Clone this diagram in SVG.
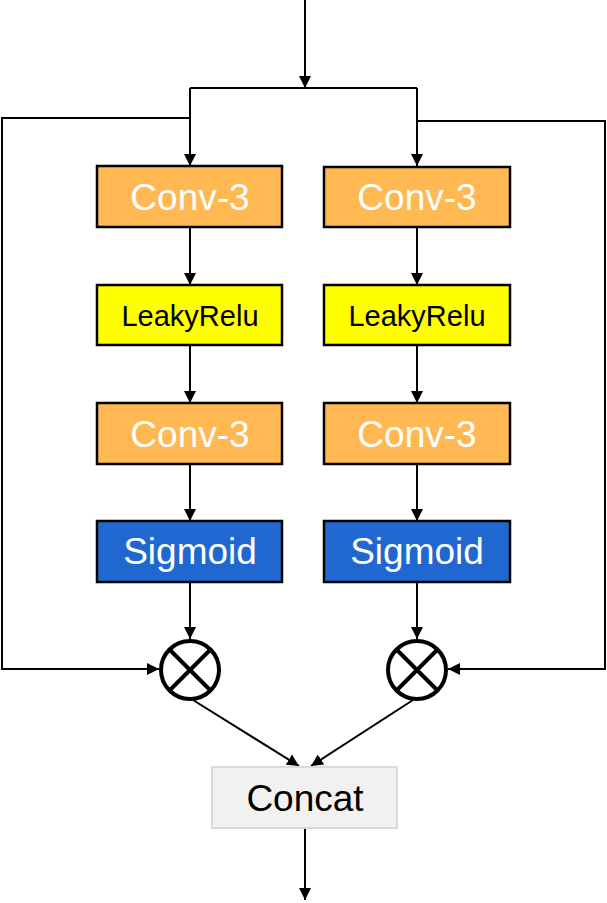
<svg xmlns="http://www.w3.org/2000/svg" width="607" height="903" viewBox="0 0 607 903">
<style>
.box{stroke:#000;stroke-width:2.5}
.conv{fill:#FFB852}
.relu{fill:#FFFF00}
.sig{fill:#2068D0}
.cat{fill:#F1F1F1;stroke:#DADADA;stroke-width:2}
.t{font-family:"Liberation Sans",Arial,sans-serif;text-anchor:middle;dominant-baseline:central}
.w{fill:#fff;font-size:37px}
.b{fill:#000}
.ln{fill:none;stroke:#000;stroke-width:2}
.mul{fill:#fff;stroke:#000;stroke-width:4}
</style>
<defs>
<marker id="ah" viewBox="0 0 10 10" refX="10" refY="5" markerWidth="6" markerHeight="6" orient="auto" markerUnits="strokeWidth">
<path d="M0,0 L10,5 L0,10 z" fill="#000"/>
</marker>
</defs>
<g id="connectors">
<path class="ln" d="M305,0 V88" marker-end="url(#ah)"/>
<path class="ln" d="M190,88 H417"/>
<path class="ln" d="M190,88 V166" marker-end="url(#ah)"/>
<path class="ln" d="M417,88 V166" marker-end="url(#ah)"/>
<path class="ln" d="M190,118 H2 V669 H159" marker-end="url(#ah)"/>
<path class="ln" d="M417,121 H605 V669 H448" marker-end="url(#ah)"/>
<path class="ln" d="M190,227 V285" marker-end="url(#ah)"/>
<path class="ln" d="M190,345 V403" marker-end="url(#ah)"/>
<path class="ln" d="M190,464 V521" marker-end="url(#ah)"/>
<path class="ln" d="M190,582 V639" marker-end="url(#ah)"/>
<path class="ln" d="M417,227 V285" marker-end="url(#ah)"/>
<path class="ln" d="M417,345 V403" marker-end="url(#ah)"/>
<path class="ln" d="M417,464 V521" marker-end="url(#ah)"/>
<path class="ln" d="M417,582 V639" marker-end="url(#ah)"/>
<path class="ln" d="M193,700 L299,766" marker-end="url(#ah)"/>
<path class="ln" d="M413,700 L311,766" marker-end="url(#ah)"/>
<path class="ln" d="M305,828 V900" marker-end="url(#ah)"/>
</g>
<g id="conv1-left"><rect class="box conv" x="97" y="166" width="185" height="61"/><text class="t w" x="190" y="197">Conv-3</text></g>
<g id="conv1-right"><rect class="box conv" x="324" y="167" width="186" height="60"/><text class="t w" x="417" y="197">Conv-3</text></g>
<g id="relu-left"><rect class="box relu" x="97" y="285" width="185" height="60"/><text class="t b" x="190" y="316" font-size="29">LeakyRelu</text></g>
<g id="relu-right"><rect class="box relu" x="324" y="285" width="186" height="60"/><text class="t b" x="417" y="316" font-size="29">LeakyRelu</text></g>
<g id="conv2-left"><rect class="box conv" x="97" y="403" width="185" height="61"/><text class="t w" x="190" y="434">Conv-3</text></g>
<g id="conv2-right"><rect class="box conv" x="324" y="403" width="186" height="61"/><text class="t w" x="417" y="434">Conv-3</text></g>
<g id="sig-left"><rect class="box sig" x="97" y="521" width="185" height="61"/><text class="t w" x="190" y="551">Sigmoid</text></g>
<g id="sig-right"><rect class="box sig" x="324" y="521" width="186" height="61"/><text class="t w" x="417" y="551">Sigmoid</text></g>
<g id="mul-left"><circle class="mul" cx="190" cy="670" r="29"/><path class="ln" style="stroke-width:4" d="M169.5,649.5 L210.5,690.5 M210.5,649.5 L169.5,690.5"/></g>
<g id="mul-right"><circle class="mul" cx="417" cy="670" r="29"/><path class="ln" style="stroke-width:4" d="M396.5,649.5 L437.5,690.5 M437.5,649.5 L396.5,690.5"/></g>
<g id="concat"><rect class="cat" x="212" y="767" width="185" height="61"/><text class="t b" x="305" y="798" font-size="37">Concat</text></g>
</svg>
